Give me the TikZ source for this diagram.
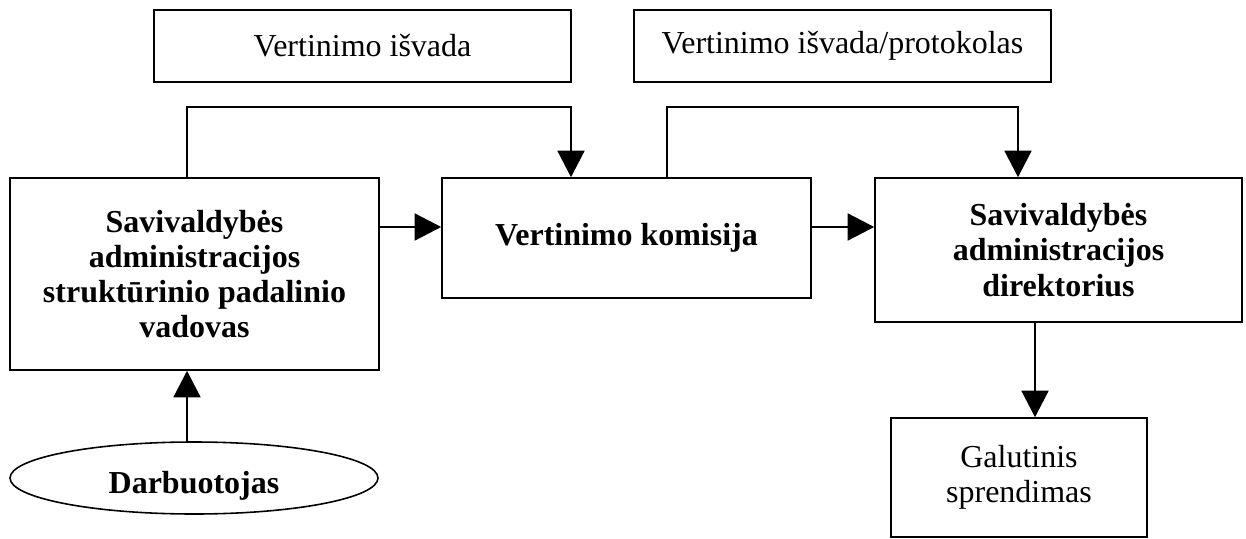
\documentclass[tikz,border=0pt]{standalone}
\usepackage{fontspec}
\setmainfont{Liberation Serif}
\usepackage{tikz}
\usetikzlibrary{arrows.meta,positioning,shapes.geometric}

\begin{document}
\begin{tikzpicture}[
    box/.style={draw, line width=0.9pt, align=center, font=\fontsize{18.2}{20}\selectfont\bfseries},
    note/.style={draw, line width=0.9pt, align=center, minimum width=8.34cm, minimum height=1.44cm, font=\fontsize{18.2}{20}\selectfont},
    actor/.style={draw, ellipse, line width=0.9pt, minimum width=7.36cm, minimum height=1.44cm, inner sep=0pt, text height=0.6cm, text depth=0pt, font=\fontsize{18.2}{20}\selectfont\bfseries},
    arr/.style={-{Triangle[length=0.53cm, width=0.54cm]}, line width=0.9pt},
]
    \useasboundingbox (0,0) rectangle (24.92,10.76);

    % Documents on top
    \node[note] (isv) at (7.25, 9.84) {Vertinimo išvada};
    \node[note] (prot) at (16.85, 9.84) {Vertinimo išvada/protokolas};

    % Main chain
    \node[box, minimum width=7.38cm, minimum height=3.84cm] (lead) at (3.89, 5.28) {Savivaldybės\\administracijos\\struktūrinio padalinio\\vadovas};
    \node[box, minimum width=7.38cm, minimum height=2.40cm] (comm) at (12.53, 6.00) {Vertinimo komisija};
    \node[box, minimum width=7.34cm, minimum height=2.88cm] (dir) at (21.17, 5.76) {Savivaldybės\\administracijos\\direktorius};

    % Bottom
    \node[actor] (emp) at (3.88, 1.20) {Darbuotojas};
    \node[note, font=\fontsize{18.2}{20}\selectfont, minimum width=5.12cm, minimum height=2.38cm] (final) at (20.38, 1.21) {Galutinis\\sprendimas};

    % Bends
    \coordinate (up1) at (3.74, 8.62);
    \coordinate (dn1) at (11.42, 8.62);
    \coordinate (up2) at (13.34, 8.62);
    \coordinate (dn2) at (20.36, 8.62);
    \coordinate (mid) at (0, 6.22);
    \coordinate (low) at (20.70, 0);

    % Arrows
    \draw[arr] (lead.north -| up1) -- (up1) -- (dn1) -- (comm.north -| dn1);
    \draw[arr] (comm.north -| up2) -- (up2) -- (dn2) -- (dir.north -| dn2);
    \draw[arr] (lead.east |- mid) -- (comm.west |- mid);
    \draw[arr] (comm.east |- mid) -- (dir.west |- mid);
    \draw[arr] (dir.south -| low) -- (final.north -| low);
    \draw[arr] (emp.north -| up1) -- (lead.south -| up1);
\end{tikzpicture}
\end{document}
